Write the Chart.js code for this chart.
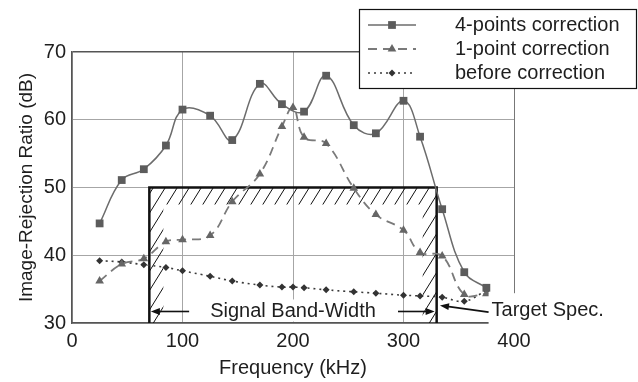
<!DOCTYPE html>
<html>
<head>
<meta charset="utf-8">
<script src="https://cdn.jsdelivr.net/npm/chart.js@4.4.1/dist/chart.umd.min.js"></script>
<style>
  html, body { margin: 0; padding: 0; background: #ffffff; }
  #wrap { width: 638px; height: 382px; }
</style>
</head>
<body>
<div id="wrap"><canvas id="c" width="638" height="382"></canvas></div>
<script>
// ---- data ----
const freq4pt = [25, 45, 65, 85, 100, 125, 145, 170, 190, 210, 230, 255, 275, 300, 315, 335, 355, 375];
const irr4pt  = [44.7, 51.1, 52.7, 56.2, 61.5, 60.6, 57.0, 65.3, 62.3, 61.2, 66.5, 59.2, 58.0, 62.8, 57.5, 46.8, 37.5, 35.2];

const freq1pt = [25, 45, 65, 85, 100, 125, 145, 170, 190, 200, 210, 230, 255, 275, 300, 315, 335, 355, 375];
const irr1pt  = [36.2, 38.7, 39.5, 42.0, 42.3, 42.9, 47.9, 52.0, 59.0, 61.8, 57.4, 56.5, 49.9, 46.0, 43.7, 40.4, 39.9, 34.2, 34.3];

const freqBefore = [25, 45, 65, 85, 100, 125, 145, 170, 190, 200, 210, 230, 255, 275, 300, 315, 335, 355, 375];
const irrBefore  = [39.2, 39.0, 38.6, 38.2, 37.7, 36.9, 36.2, 35.6, 35.3, 35.3, 35.2, 34.9, 34.6, 34.4, 34.1, 34.0, 33.8, 33.2, 34.8];

const seriesNames = ['4-points correction', '1-point correction', 'before correction'];
const xTicks = [0, 100, 200, 300, 400];
const yTicks = [30, 40, 50, 60, 70];

// target-spec box (kHz, dB)
const bandStart = 70, bandEnd = 330, targetSpec = 50;

const FONT = '"Liberation Sans", Arial, sans-serif';
const TXT = '#1e1e1e';

function pts(xs, ys) { return xs.map((x, i) => ({ x: x, y: ys[i] })); }

function arrow(ctx, x1, y1, x2, y2) {
  const ang = Math.atan2(y2 - y1, x2 - x1);
  const L = 9, W = 3.5;
  ctx.beginPath();
  ctx.moveTo(x1, y1);
  ctx.lineTo(x2 - Math.cos(ang) * L * 0.8, y2 - Math.sin(ang) * L * 0.8);
  ctx.stroke();
  ctx.beginPath();
  ctx.moveTo(x2, y2);
  ctx.lineTo(x2 - Math.cos(ang) * L - Math.sin(ang) * W, y2 - Math.sin(ang) * L + Math.cos(ang) * W);
  ctx.lineTo(x2 - Math.cos(ang) * L + Math.sin(ang) * W, y2 - Math.sin(ang) * L - Math.cos(ang) * W);
  ctx.closePath();
  ctx.fill();
}

function marker(ctx, style, x, y, r, color) {
  ctx.save();
  ctx.fillStyle = color;
  ctx.beginPath();
  if (style === 'rect') {
    const s = r * Math.SQRT1_2;
    ctx.rect(x - s, y - s, 2 * s, 2 * s);
  } else if (style === 'triangle') {
    const h = r * 1.5, half = r * 0.866 * 1.0;
    ctx.moveTo(x, y - r);
    ctx.lineTo(x + half, y + r * 0.5);
    ctx.lineTo(x - half, y + r * 0.5);
    ctx.closePath();
  } else {
    const s = r;
    ctx.moveTo(x, y - s); ctx.lineTo(x + s, y); ctx.lineTo(x, y + s); ctx.lineTo(x - s, y); ctx.closePath();
  }
  ctx.fill();
  ctx.restore();
}

const decor = {
  id: 'decor',
  beforeDatasetsDraw(chart) {
    const { ctx, scales: { x, y } } = chart;
    const X0 = x.getPixelForValue(bandStart), X1 = x.getPixelForValue(bandEnd);
    const YT = y.getPixelForValue(targetSpec), YB = y.getPixelForValue(30);
    // hatching
    ctx.save();
    ctx.beginPath();
    ctx.rect(X0, YT, X1 - X0, 17);
    ctx.rect(X0, YT, 14, YB - YT);
    ctx.rect(X1 - 14, YT, 14, YB - YT);
    ctx.clip();
    ctx.strokeStyle = '#111';
    ctx.lineWidth = 1;
    const k = 0.62;
    for (let c = X0 - 200; c < X1 + 200; c += 12) {
      ctx.beginPath();
      ctx.moveTo(c, YT);
      ctx.lineTo(c - (YB - YT) * k, YB);
      ctx.stroke();
    }
    ctx.restore();
    // thick frame
    ctx.save();
    ctx.strokeStyle = '#111';
    ctx.lineWidth = 2.5;
    ctx.beginPath();
    ctx.moveTo(X0, YB);
    ctx.lineTo(X0, YT);
    ctx.lineTo(X1, YT);
    ctx.lineTo(X1, YB);
    ctx.stroke();
    ctx.restore();
  },
  afterDatasetsDraw(chart) {
    const { ctx, scales: { x, y } } = chart;
    const X0 = x.getPixelForValue(bandStart), X1 = x.getPixelForValue(bandEnd);
    ctx.save();
    // Signal Band-Width label
    const ly = y.getPixelForValue(31.7);
    ctx.fillStyle = '#ffffff';
    ctx.fillRect(x.getPixelForValue(107), ly - 12, x.getPixelForValue(295) - x.getPixelForValue(107), 22);
    ctx.font = '20px ' + FONT;
    ctx.fillStyle = TXT;
    ctx.textAlign = 'center';
    ctx.textBaseline = 'middle';
    ctx.fillText('Signal Band-Width', x.getPixelForValue(200), ly);
    ctx.strokeStyle = '#111';
    ctx.fillStyle = '#111';
    ctx.lineWidth = 1.6;
    arrow(ctx, x.getPixelForValue(106), ly, X0 + 1.5, ly);
    arrow(ctx, x.getPixelForValue(295), ly, X1 - 2, ly);
    // Target Spec label
    const ty = y.getPixelForValue(31.8);
    const tx = x.getPixelForValue(377);
    ctx.fillStyle = '#ffffff';
    ctx.fillRect(tx, y.getPixelForValue(34.4), 638 - tx, y.getPixelForValue(28.8) - y.getPixelForValue(34.4));
    ctx.fillStyle = TXT;
    ctx.textAlign = 'left';
    ctx.fillText('Target Spec.', tx + 3, ty);
    ctx.fillStyle = '#111';
    arrow(ctx, tx, y.getPixelForValue(31.6), x.getPixelForValue(333), y.getPixelForValue(32.6));
    ctx.restore();

    // legend
    ctx.save();
    const bx = 359, by = 9, bw = 277, bh = 79;
    ctx.fillStyle = '#ffffff';
    ctx.fillRect(bx, by, bw, bh);
    ctx.strokeStyle = '#111';
    ctx.lineWidth = 1.2;
    ctx.strokeRect(bx + 0.5, by + 0.5, bw, bh);
    const rows = [25, 49, 73];
    chart.data.datasets.forEach((ds, i) => {
      const ry = rows[i];
      ctx.save();
      ctx.strokeStyle = ds.borderColor;
      ctx.lineWidth = ds.borderWidth;
      ctx.setLineDash(ds.borderDash || []);
      ctx.beginPath();
      ctx.moveTo(368, ry);
      ctx.lineTo(416, ry);
      ctx.stroke();
      ctx.restore();
      marker(ctx, ds.pointStyle, 392, ry, ds.pointRadius, ds.pointBackgroundColor);
      ctx.font = '20px ' + FONT;
      ctx.fillStyle = TXT;
      ctx.textAlign = 'left';
      ctx.textBaseline = 'middle';
      ctx.fillText(ds.label, 455, ry);
    });
    ctx.restore();
  }
};

new Chart(document.getElementById('c'), {
  type: 'line',
  data: {
    datasets: [
      {
        label: seriesNames[0],
        data: pts(freq4pt, irr4pt),
        borderColor: '#6c6c6c', borderWidth: 1.5,
        pointStyle: 'rect', pointRadius: 5.5, pointBorderWidth: 0,
        pointBackgroundColor: '#5c5c5c', pointBorderColor: '#5c5c5c',
        tension: 0.4, fill: false
      },
      {
        label: seriesNames[1],
        data: pts(freq1pt, irr1pt),
        borderColor: '#7a7a7a', borderWidth: 1.8, borderDash: [9, 6],
        pointStyle: 'triangle', pointRadius: 5, pointBorderWidth: 0,
        pointBackgroundColor: '#666666', pointBorderColor: '#666666',
        tension: 0.4, fill: false
      },
      {
        label: seriesNames[2],
        data: pts(freqBefore, irrBefore),
        borderColor: '#3a3a3a', borderWidth: 1.6, borderDash: [2, 4],
        pointStyle: 'rectRot', pointRadius: 3.5, pointBorderWidth: 0,
        pointBackgroundColor: '#333333', pointBorderColor: '#333333',
        tension: 0.4, fill: false
      }
    ]
  },
  options: {
    responsive: false,
    animation: false,
    devicePixelRatio: 1,
    layout: { padding: { top: 52, right: 124, left: 0, bottom: 0 } },
    plugins: { legend: { display: false }, tooltip: { enabled: false } },
    scales: {
      x: {
        type: 'linear', min: 0, max: 400,
        afterFit(s) { s.height = 59; },
        afterBuildTicks(s) { s.ticks = xTicks.map(v => ({ value: v })); },
        ticks: { color: TXT, font: { family: FONT, size: 20 }, padding: 6, maxRotation: 0 },
        grid: {
          drawTicks: false,
          color: c => (c.tick && c.tick.value === 400) ? '#777777' : '#a6a6a6',
          lineWidth: 1
        },
        border: { color: '#555555', width: 1.5 },
        title: { display: true, text: 'Frequency (kHz)', color: TXT, font: { family: FONT, size: 20 }, padding: { top: 0, bottom: 2 } }
      },
      y: {
        type: 'linear', min: 30, max: 70,
        afterFit(s) { s.width = 72; },
        afterBuildTicks(s) { s.ticks = yTicks.map(v => ({ value: v })); },
        ticks: { color: TXT, font: { family: FONT, size: 20 }, padding: 6 },
        grid: {
          drawTicks: false,
          color: c => (c.tick && c.tick.value === 70) ? '#555555' : '#a6a6a6',
          lineWidth: c => (c.tick && c.tick.value === 70) ? 1.5 : 1
        },
        border: { color: '#555555', width: 1.5 },
        title: { display: true, text: 'Image-Rejection Ratio (dB)', color: TXT, font: { family: FONT, size: 19 }, padding: { top: 15, bottom: 0 } }
      }
    }
  },
  plugins: [decor]
});
</script>
</body>
</html>
